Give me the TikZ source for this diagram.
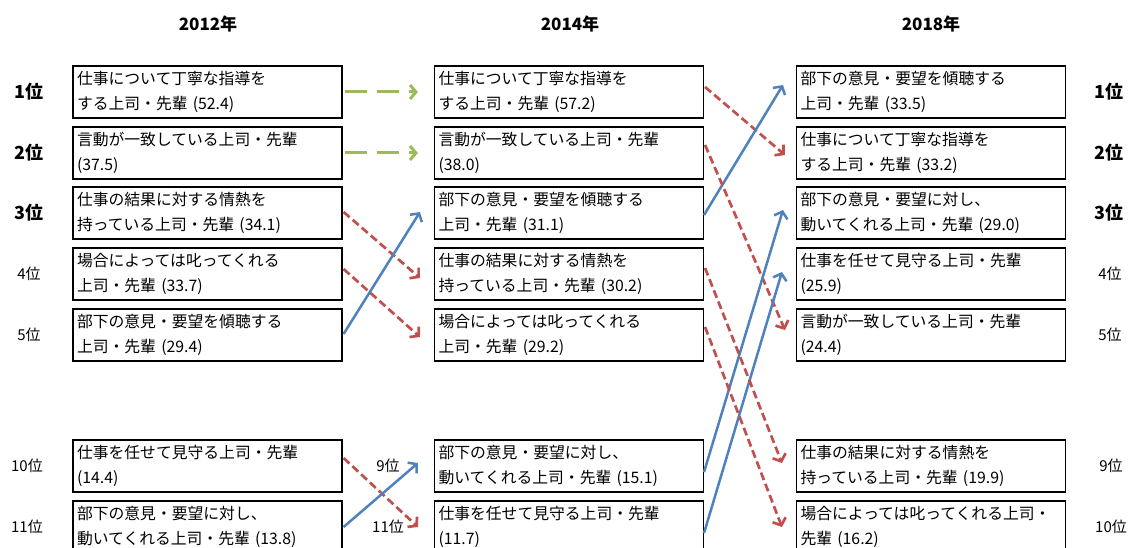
\documentclass[tikz,border=0pt]{standalone}
\usepackage{fontspec}
\newfontfamily\jp{Noto Sans CJK JP}
\usepackage{tikz}
\usetikzlibrary{arrows.meta,positioning}

\definecolor{keepgreen}{HTML}{9BBB59}
\definecolor{downred}{HTML}{C0504D}
\definecolor{upblue}{HTML}{4F81BD}

\begin{document}
\begin{tikzpicture}[x=1pt,y=-1pt,
  box/.style={draw, line width=1.1pt, text width=261pt, inner xsep=4pt, inner ysep=0pt, minimum height=52pt, align=left, font=\jp\fontsize{15.8}{25}\selectfont},
  rankbig/.style={font=\jp\bfseries\fontsize{18}{20}\selectfont},
  rank/.style={font=\jp\fontsize{15}{18}\selectfont},
  year/.style={font=\jp\bfseries\fontsize{17}{20}\selectfont},
  keep/.style={draw=keepgreen, line width=3pt, dash pattern=on 22pt off 10pt, -{Straight Barb[length=6pt,width=14pt]}},
  down/.style={draw=downred, line width=2.7pt, dash pattern=on 8pt off 4pt, -{Straight Barb[length=6pt,width=14pt]}},
  up/.style={draw=upblue, line width=2.5pt, -{Straight Barb[length=6pt,width=14pt]}}]
\useasboundingbox (0,0) rectangle (1132,548);

\node[year] (Y1) at (208,24) {2012年};
\node[year] (Y2) at (570,24) {2014年};
\node[year] (Y3) at (931,24) {2018年};

\node[rankbig] (L1) at (29,92) {1位};
\node[rankbig] (L2) at (29,153) {2位};
\node[rankbig] (L3) at (29,213) {3位};
\node[rank] (L4) at (29,274) {4位};
\node[rank] (L5) at (29,335) {5位};
\node[rank] (L10) at (27,466) {10位};
\node[rank] (L11) at (27,527) {11位};

\node[rankbig] (R1) at (1109,92) {1位};
\node[rankbig] (R2) at (1109,153) {2位};
\node[rankbig] (R3) at (1109,213) {3位};
\node[rank] (R4) at (1110,274) {4位};
\node[rank] (R5) at (1110,335) {5位};
\node[rank] (R9) at (1111,466) {9位};
\node[rank] (R10) at (1111,527) {10位};

\node[box] (A1) at (207.5,92) {仕事について丁寧な指導を\\する上司・先輩 (52.4)};
\node[box] (A2) at (207.5,153) {言動が一致している上司・先輩\\(37.5)};
\node[box] (A3) at (207.5,213) {仕事の結果に対する情熱を\\持っている上司・先輩 (34.1)};
\node[box] (A4) at (207.5,274) {場合によっては叱ってくれる\\上司・先輩 (33.7)};
\node[box] (A5) at (207.5,335) {部下の意見・要望を傾聴する\\上司・先輩 (29.4)};
\node[box] (A10) at (207.5,466) {仕事を任せて見守る上司・先輩\\(14.4)};
\node[box] (A11) at (207.5,527) {部下の意見・要望に対し、\\動いてくれる上司・先輩 (13.8)};

\node[box] (B1) at (569,92) {仕事について丁寧な指導を\\する上司・先輩 (57.2)};
\node[box] (B2) at (569,153) {言動が一致している上司・先輩\\(38.0)};
\node[box] (B3) at (569,213) {部下の意見・要望を傾聴する\\上司・先輩 (31.1)};
\node[box] (B4) at (569,274) {仕事の結果に対する情熱を\\持っている上司・先輩 (30.2)};
\node[box] (B5) at (569,335) {場合によっては叱ってくれる\\上司・先輩 (29.2)};
\node[box] (B10) at (569,466) {部下の意見・要望に対し、\\動いてくれる上司・先輩 (15.1)};
\node[box] (B11) at (569,527) {仕事を任せて見守る上司・先輩\\(11.7)};

\node[box] (C1) at (931,92) {部下の意見・要望を傾聴する\\上司・先輩 (33.5)};
\node[box] (C2) at (931,153) {仕事について丁寧な指導を\\する上司・先輩 (33.2)};
\node[box] (C3) at (931,213) {部下の意見・要望に対し、\\動いてくれる上司・先輩 (29.0)};
\node[box] (C4) at (931,274) {仕事を任せて見守る上司・先輩\\(25.9)};
\node[box] (C5) at (931,335) {言動が一致している上司・先輩\\(24.4)};
\node[box] (C10) at (931,466) {仕事の結果に対する情熱を\\持っている上司・先輩 (19.9)};
\node[box] (C11) at (931,527) {場合によっては叱ってくれる上司・\\先輩 (16.2)};

\node[rank] (M9) at (388,466) {9位};
\node[rank] (M11) at (388,527) {11位};

% 2012 -> 2014
\path[keep] ([shift={(2,0)}]A1.east) -- ([shift={(-16,0)}]B1.west);
\path[keep] ([shift={(2,0)}]A2.east) -- ([shift={(-16,0)}]B2.west);
\path[down] ([shift={(1,-1)}]A3.east) -- ([shift={(-14,4)}]B4.west);
\path[down] ([shift={(1,-5)}]A4.east) -- ([shift={(-14,2)}]B5.west);
\path[up] ([shift={(1,-1)}]A5.east) -- ([shift={(-14,-1)}]B3.west);
\path[down] ([shift={(1,-8)}]A10.east) -- ([shift={(-16,0)}]B11.west);
\path[up] ([shift={(1,0)}]A11.east) -- ([shift={(-16,-3)}]B10.west);

% 2014 -> 2018
\path[down] ([shift={(1,-5)}]B1.east) -- ([shift={(-11,2)}]C2.west);
\path[up] ([shift={(0,2)}]B3.east) -- ([shift={(-13,-7)}]C1.west);
\path[down] ([shift={(1,-8)}]B2.east) -- ([shift={(-11,-5)}]C5.west);
\path[up] ([shift={(0,6)}]B10.east) -- ([shift={(-13,-3)}]C3.west);
\path[up] ([shift={(0,6)}]B11.east) -- ([shift={(-14,-2)}]C4.west);
\path[down] ([shift={(1,-6)}]B4.east) -- ([shift={(-14,-3)}]C10.west);
\path[down] ([shift={(1,-8)}]B5.east) -- ([shift={(-14,0)}]C11.west);
\end{tikzpicture}
\end{document}
